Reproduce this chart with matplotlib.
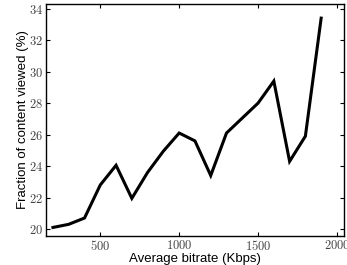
import matplotlib
matplotlib.use('Agg')
import matplotlib.pyplot as plt
from matplotlib.ticker import FuncFormatter

# average bitrate (Kbps) vs fraction of content viewed (%)
bitrate = [200, 300, 400, 500, 600, 700, 800, 900, 1000, 1100,
           1200, 1300, 1400, 1500, 1600, 1700, 1800, 1900]
viewed = [20.1, 20.3, 20.7, 22.8, 24.05, 21.95, 23.6, 24.95, 26.1, 25.6,
          23.4, 26.1, 27.05, 28.0, 29.4, 24.3, 25.9, 33.4]
xticks = [500, 1000, 1500, 2000]
yticks = [20, 22, 24, 26, 28, 30, 32, 34]

plt.rcParams['mathtext.fontset'] = 'cm'

fig = plt.figure(figsize=(3.47, 2.65), dpi=100)
ax = fig.add_axes([0.1326, 0.109, 0.8584, 0.876])
ax.plot(bitrate, viewed, color='black', linewidth=2.2, solid_joinstyle='miter')

ax.set_xlim(156, 2044)
ax.set_ylim(19.55, 34.3)
ax.set_xticks(xticks)
ax.set_yticks(yticks)
tex = FuncFormatter(lambda v, p: r'$%d$' % v)
ax.xaxis.set_major_formatter(tex)
ax.yaxis.set_major_formatter(tex)
ax.tick_params(direction='in', top=True, right=True, length=3, width=0.8,
               labelsize=9, labelcolor='#444444', pad=2)
for s in ax.spines.values():
    s.set_linewidth(1.0)

ax.set_xlabel('Average bitrate (Kbps)', family='Liberation Sans', fontsize=9.5, labelpad=0)
ax.set_ylabel('Fraction of content viewed (%)', family='Liberation Sans', fontsize=9.5, labelpad=0)

fig.savefig('out.png', dpi=100)
